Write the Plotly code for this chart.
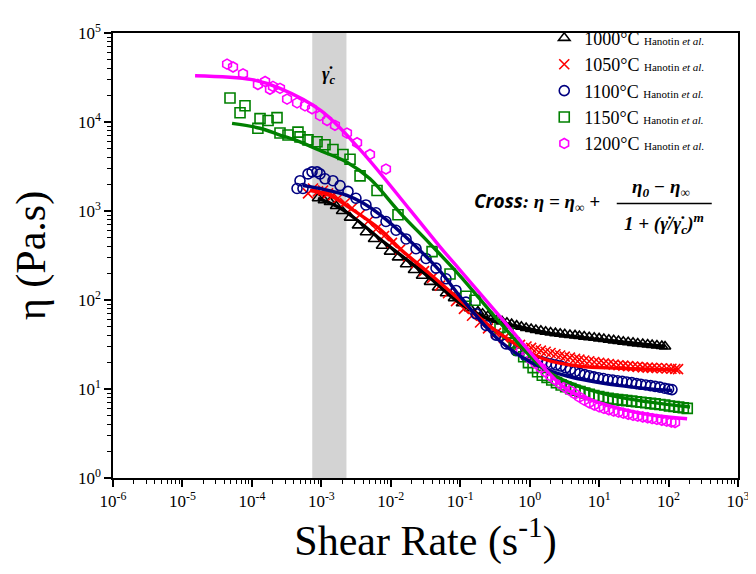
import math
import plotly.graph_objects as go

# ---------------- data ----------------
temps = ["1000°C", "1050°C", "1100°C", "1150°C", "1200°C"]
colors = ["#000000", "#ff0000", "#000080", "#008000", "#ff00ff"]
symbols = ["triangle-up-open", "x-thin-open", "circle-open", "square-open", "hexagon-open"]

# 1000 °C
x_1000 = [8.95e-4, 1.09e-3, 1.33e-3, 1.63e-3, 1.99e-3, 2.59e-3, 3.37e-3, 4.39e-3, 5.74e-3, 7.48e-3,
          9.75e-3, 1.27e-2, 1.66e-2, 2.16e-2, 2.82e-2, 3.67e-2, 4.79e-2, 6.24e-2, 8.14e-2, 0.106,
          0.138, 0.18, 0.21, 0.25, 0.29, 0.34, 0.40, 0.47, 0.55, 0.65, 0.76, 0.89,
          1.05, 1.23, 1.45, 1.7, 2.0, 2.35, 2.75, 3.2, 3.8, 4.5, 5.2, 6.1, 7.2, 8.5,
          10, 11.7, 13.8, 16.2, 19, 22.3, 26.2, 30.8, 36, 42.5, 50, 58, 68, 80, 89]
eta_1000 = [1390, 1320, 1260, 1140, 1000, 843, 689, 578, 485, 407,
            350, 301, 252, 217, 187, 160, 138, 119, 105, 92,
            81, 74, 70, 66, 63, 60, 57.5, 55.5, 53.5, 51.5, 50, 48.5,
            47.2, 46, 45, 44, 43.2, 42.4, 41.7, 41.1, 40.5, 40, 39.4, 38.8, 38.2, 37.6,
            37, 36.4, 35.8, 35.2, 34.6, 34, 33.5, 33, 32.5, 32, 31.6, 31.2, 30.8, 30.4, 30]
fit_x_1000 = [8.95e-4, 1.86e-3, 3.61e-3, 7.0e-3, 1.36e-2, 3.67e-2, 9.93e-2, 0.269, 0.726, 1.96, 5.31, 20.0, 88.9]
fit_eta_1000 = [1390, 1080, 743, 485, 324, 177, 92, 60, 50, 42, 38, 34, 30]

# 1050 °C
x_1050 = [6.43e-4, 7.59e-4, 8.95e-4, 1.06e-3, 1.25e-3, 1.47e-3, 1.74e-3, 2.19e-3, 2.77e-3,
          3.61e-3, 4.70e-3, 6.12e-3, 8.0e-3, 1.04e-2, 1.36e-2, 1.77e-2, 2.31e-2, 3.01e-2, 3.93e-2,
          5.12e-2, 6.67e-2, 8.70e-2, 0.113, 0.148, 0.193, 0.251, 0.328, 0.427, 0.557, 0.726,
          0.9, 1.05, 1.23, 1.45, 1.7, 2.0, 2.35, 2.75, 3.2, 3.8, 4.5, 5.2, 6.1, 7.2, 8.5,
          10, 11.7, 13.8, 16.2, 19, 22.3, 26.2, 30.8, 36, 42.5, 50, 58, 68, 80, 94, 110, 125, 137]
eta_1050 = [1580, 1790, 1660, 1700, 1580, 1500, 1390, 1230, 1080,
            909, 762, 624, 523, 438, 368, 308, 259, 211, 177,
            145, 119, 97, 79.4, 66.6, 55.8, 48, 42.4, 37.3, 33.7, 31.3,
            30, 29, 28, 27, 26.2, 25.4, 24.6, 23.8, 23.1, 22.5, 21.9, 21.4, 20.9, 20.5, 20.1,
            19.7, 19.4, 19.1, 18.8, 18.5, 18.3, 18.1, 17.9, 17.7, 17.5, 17.4, 17.3, 17.2, 17.1, 17, 16.9, 16.8, 16.7]
fit_x_1050 = [6.87e-4, 1.33e-3, 2.59e-3, 7.0e-3, 1.36e-2, 3.67e-2, 9.93e-2, 0.269, 0.726, 1.66, 5.31, 20.0, 137]
fit_eta_1050 = [1700, 1500, 1080, 624, 377, 196, 99.5, 50.5, 29.8, 21.5, 18.0, 17.1, 16.3]

# 1100 °C
x_1100 = [4.47e-4, 4.93e-4, 5.44e-4, 6.43e-4, 7.35e-4, 8.67e-4, 9.57e-4, 1.13e-3, 1.47e-3, 1.86e-3, 2.42e-3,
          3.15e-3, 4.39e-3, 6.12e-3, 8.53e-3, 1.19e-2, 1.66e-2, 2.31e-2, 3.22e-2, 4.48e-2, 6.24e-2,
          8.70e-2, 0.121, 0.169, 0.236, 0.328, 0.457, 0.637, 0.887,
          1.12, 1.3, 1.5, 1.75, 2.05, 2.4, 2.8, 3.3, 3.85, 4.5, 5.3, 6.2, 7.2, 8.4, 9.8,
          11.5, 13.4, 15.7, 18.4, 21.5, 25, 29.5, 34.5, 40, 47, 55, 64, 75, 88, 100, 112]
eta_1100 = [1790, 2190, 1790, 2610, 2750, 2750, 2610, 2300, 2190, 1930, 1660,
            1390, 1170, 955, 762, 608, 485, 377, 293, 228, 173,
            128, 94.6, 70, 51.8, 40.3, 32.1, 26.9, 23.2,
            21.5, 20.8, 20.2, 19.6, 19.1, 18.6, 18.1, 17.3, 16.5, 15.7, 15.0, 14.5, 14.1, 13.7, 13.4,
            13.1, 12.8, 12.6, 12.4, 12.2, 12.0, 11.8, 11.5, 11.3, 11.1, 10.9, 10.7, 10.5, 10.2, 10.0, 9.85]
fit_x_1100 = [5.44e-4, 9.57e-4, 2.34e-3, 3.98e-3, 7.0e-3, 2.09e-2, 5.12e-2, 0.110, 0.374, 1.12, 3.45, 20.0, 112]
fit_eta_1100 = [1930, 1790, 1500, 1230, 909, 428, 211, 99.5, 34.6, 19.4, 14.0, 10.9, 9.61]

# 1150 °C
x_1150 = [4.84e-5, 6.75e-5, 7.96e-5, 1.22e-4, 1.31e-4, 1.71e-4, 2.30e-4, 2.54e-4, 3.31e-4, 4.61e-4,
          4.93e-4, 6.43e-4, 8.67e-4, 1.13e-3, 1.47e-3, 2.05e-3, 2.59e-3, 3.61e-3, 6.34e-3, 1.27e-2,
          3.93e-2, 7.13e-2, 0.121, 0.163, 0.374, 0.488,
          0.6, 0.7, 0.82, 0.96, 1.12, 1.3, 1.52, 1.78, 2.08, 2.43, 2.84, 3.3, 3.9, 4.5, 5.3, 6.2, 7.2,
          8.4, 9.9, 11.5, 13.5, 15.8, 18.5, 21.6, 25, 29.5, 34.5, 40, 47, 55, 64, 75, 88, 103, 120,
          140, 163, 186]
eta_1150 = [18600, 12700, 15200, 8510, 10900, 10400, 11200, 7510, 7140, 7690,
            6800, 6300, 5990, 5560, 4900, 4320, 3810, 2480, 1700, 909,
            350, 196, 110, 99.5, 49.2, 42.4,
            33, 27.5, 23, 19.8, 17.4, 15.6, 14.3, 13.5, 12.6, 11.8, 11.1, 10.6, 10.1, 9.7, 9.35, 9.0, 8.7,
            8.45, 8.2, 8.0, 7.85, 7.7, 7.6, 7.5, 7.4, 7.3, 7.2, 7.1, 7.0, 6.9, 6.8, 6.7, 6.6, 6.45, 6.35,
            6.25, 6.15, 6.05]
fit_x_1150 = [5.18e-5, 1.31e-4, 2.54e-4, 4.93e-4, 9.57e-4, 2.34e-3, 5.02e-3, 1.36e-2, 3.67e-2, 9.93e-2,
              0.374, 1.56, 3.81, 14.4, 54.1, 204]
fit_eta_1150 = [9660, 8510, 7140, 5990, 4780, 3530, 2300, 955, 428, 187, 55.8, 17.1, 11.7, 8.47, 7.11, 6.27]

# 1200 °C
x_1200 = [4.39e-5, 5.35e-5, 7.45e-5, 1.22e-4, 1.55e-4, 1.82e-4, 2.01e-4, 2.54e-4, 3.21e-4, 4.47e-4,
          5.82e-4, 7.35e-4, 9.57e-4, 1.21e-3, 1.57e-3, 2.34e-3, 3.27e-3, 5.02e-3, 8.53e-3,
          0.75, 0.9, 1.05, 1.23, 1.45, 1.7, 2.0, 2.35, 2.75, 3.2, 3.8, 4.5, 5.2, 6.1, 7.2, 8.5,
          10, 11.7, 13.8, 16.2, 19, 22.3, 26.2, 30.8, 36, 42.5, 50, 58, 68, 80, 94, 110, 124]
eta_1200 = [44700, 41500, 34800, 26400, 28500, 23300, 25100, 23900, 18100, 16400,
            15200, 14100, 11800, 10400, 9180, 7510, 5840, 4320, 2960,
            27, 24, 21.5, 19.3, 17.3, 15.5, 14, 12.7, 11.5, 10.5, 9.6, 8.8, 8.1, 7.5, 7.0, 6.6,
            6.3, 6.05, 5.85, 5.65, 5.5, 5.35, 5.2, 5.05, 4.95, 4.85, 4.75, 4.65, 4.55, 4.45, 4.35, 4.25, 4.2]
fit_x_1200 = [1.52e-5, 1.0e-4, 2.54e-4, 9.89e-4, 3.61e-3, 1.89e-2, 5.12e-2, 9.93e-2, 0.374, 1.78, 3.45, 13.0, 54.1, 185]
fit_eta_1200 = [33100, 29900, 23900, 13400, 4900, 1030, 396, 217, 64.9, 15.9, 9.85, 6.59, 5.13, 4.63]

# critical shear-rate band
band_x = [7.4e-4, 2.3e-3]

# axis ticks
x_tickvals = [1e-6, 1e-5, 1e-4, 1e-3, 1e-2, 1e-1, 1e0, 1e1, 1e2, 1e3]
x_ticktext = ["10<sup>-6</sup>", "10<sup>-5</sup>", "10<sup>-4</sup>", "10<sup>-3</sup>", "10<sup>-2</sup>",
              "10<sup>-1</sup>", "10<sup>0</sup>", "10<sup>1</sup>", "10<sup>2</sup>", "10<sup>3</sup>"]
y_tickvals = [1e0, 1e1, 1e2, 1e3, 1e4, 1e5]
y_ticktext = ["10<sup>0</sup>", "10<sup>1</sup>", "10<sup>2</sup>", "10<sup>3</sup>", "10<sup>4</sup>", "10<sup>5</sup>"]

# ---------------- figure ----------------
series = [
    (x_1000, eta_1000, fit_x_1000, fit_eta_1000),
    (x_1050, eta_1050, fit_x_1050, fit_eta_1050),
    (x_1100, eta_1100, fit_x_1100, fit_eta_1100),
    (x_1150, eta_1150, fit_x_1150, fit_eta_1150),
    (x_1200, eta_1200, fit_x_1200, fit_eta_1200),
]

SERIF = "Liberation Serif"
fig = go.Figure()

for i, (xs, ys, fx, fy) in enumerate(series):
    c = colors[i]
    fig.add_trace(go.Scatter(
        x=xs, y=ys, mode="markers",
        name=f"{temps[i]} <span style='font-size:11px'>Hanotin <i>et al.</i></span>",
        marker=dict(symbol=symbols[i], size=10, color=c, line=dict(color=c, width=1.6)),
    ))

for i, (xs, ys, fx, fy) in enumerate(series):
    fig.add_trace(go.Scatter(
        x=fx, y=fy, mode="lines", showlegend=False, hoverinfo="skip",
        line=dict(color=colors[i], width=3.4, shape="spline", smoothing=1.0),
    ))

fig.add_vrect(x0=band_x[0], x1=band_x[1], fillcolor="#d3d3d3", opacity=1.0,
              line_width=0, layer="below")

band_center_log = (math.log10(band_x[0]) + math.log10(band_x[1])) / 2
math_font = dict(family=SERIF, size=19, color="black")
fig.add_annotation(x=band_center_log, xref="x", y=0.935, yref="paper",
                   text="<b><i>γ̇<sub>c</sub></i></b>", showarrow=False,
                   font=dict(family=SERIF, size=18, color="black"))

# Cross model formula
fig.add_annotation(x=0.678, y=0.622, xref="paper", yref="paper", showarrow=False,
                   text="<b><i><span style='font-family:Open Sans'>Cross</span>: η = η<sub>∞</sub> +</i></b>",
                   font=math_font, xanchor="center", yanchor="middle")
fig.add_annotation(x=0.877, y=0.652, xref="paper", yref="paper", showarrow=False,
                   text="<b><i>η<sub>0</sub> − η<sub>∞</sub></i></b>",
                   font=math_font, xanchor="center", yanchor="middle")
fig.add_annotation(x=0.882, y=0.572, xref="paper", yref="paper", showarrow=False,
                   text="<b><i>1 + (γ̇/γ̇<sub>c</sub>)<sup>m</sup></i></b>",
                   font=math_font, xanchor="center", yanchor="middle")
fig.add_shape(type="line", xref="paper", yref="paper", x0=0.806, x1=0.958, y0=0.617, y1=0.617,
              line=dict(color="black", width=1.5))

axis_common = dict(
    showline=True, linecolor="black", linewidth=1.5, mirror=True,
    ticks="outside", ticklen=7, tickwidth=1.5, tickcolor="black",
    showgrid=False, zeroline=False, automargin=False,
    tickfont=dict(family=SERIF, size=17, color="black"),
    minor=dict(ticks="outside", ticklen=4, tickwidth=1, tickcolor="black", dtick="D1", showgrid=False),
)

fig.update_xaxes(type="log", range=[-6, 3], tickvals=x_tickvals, ticktext=x_ticktext,
                 title=dict(text="Shear Rate (s<sup>-1</sup>)", font=dict(family=SERIF, size=42, color="black"),
                            standoff=0),
                 **axis_common)
fig.update_yaxes(type="log", range=[0, 5], tickvals=y_tickvals, ticktext=y_ticktext,
                 title=dict(text="η (Pa.s)", font=dict(family=SERIF, size=42, color="black"),
                            standoff=25),
                 **axis_common)

fig.update_layout(
    width=748, height=566,
    margin=dict(l=105, r=18, t=12, b=96),
    paper_bgcolor="white", plot_bgcolor="white",
    legend=dict(x=0.69, y=1.03, xanchor="left", yanchor="top",
                font=dict(family=SERIF, size=18, color="black"),
                bgcolor="rgba(0,0,0,0)", borderwidth=0, tracegroupgap=0, itemwidth=30),
    showlegend=True,
)

fig.write_html("out.html")
